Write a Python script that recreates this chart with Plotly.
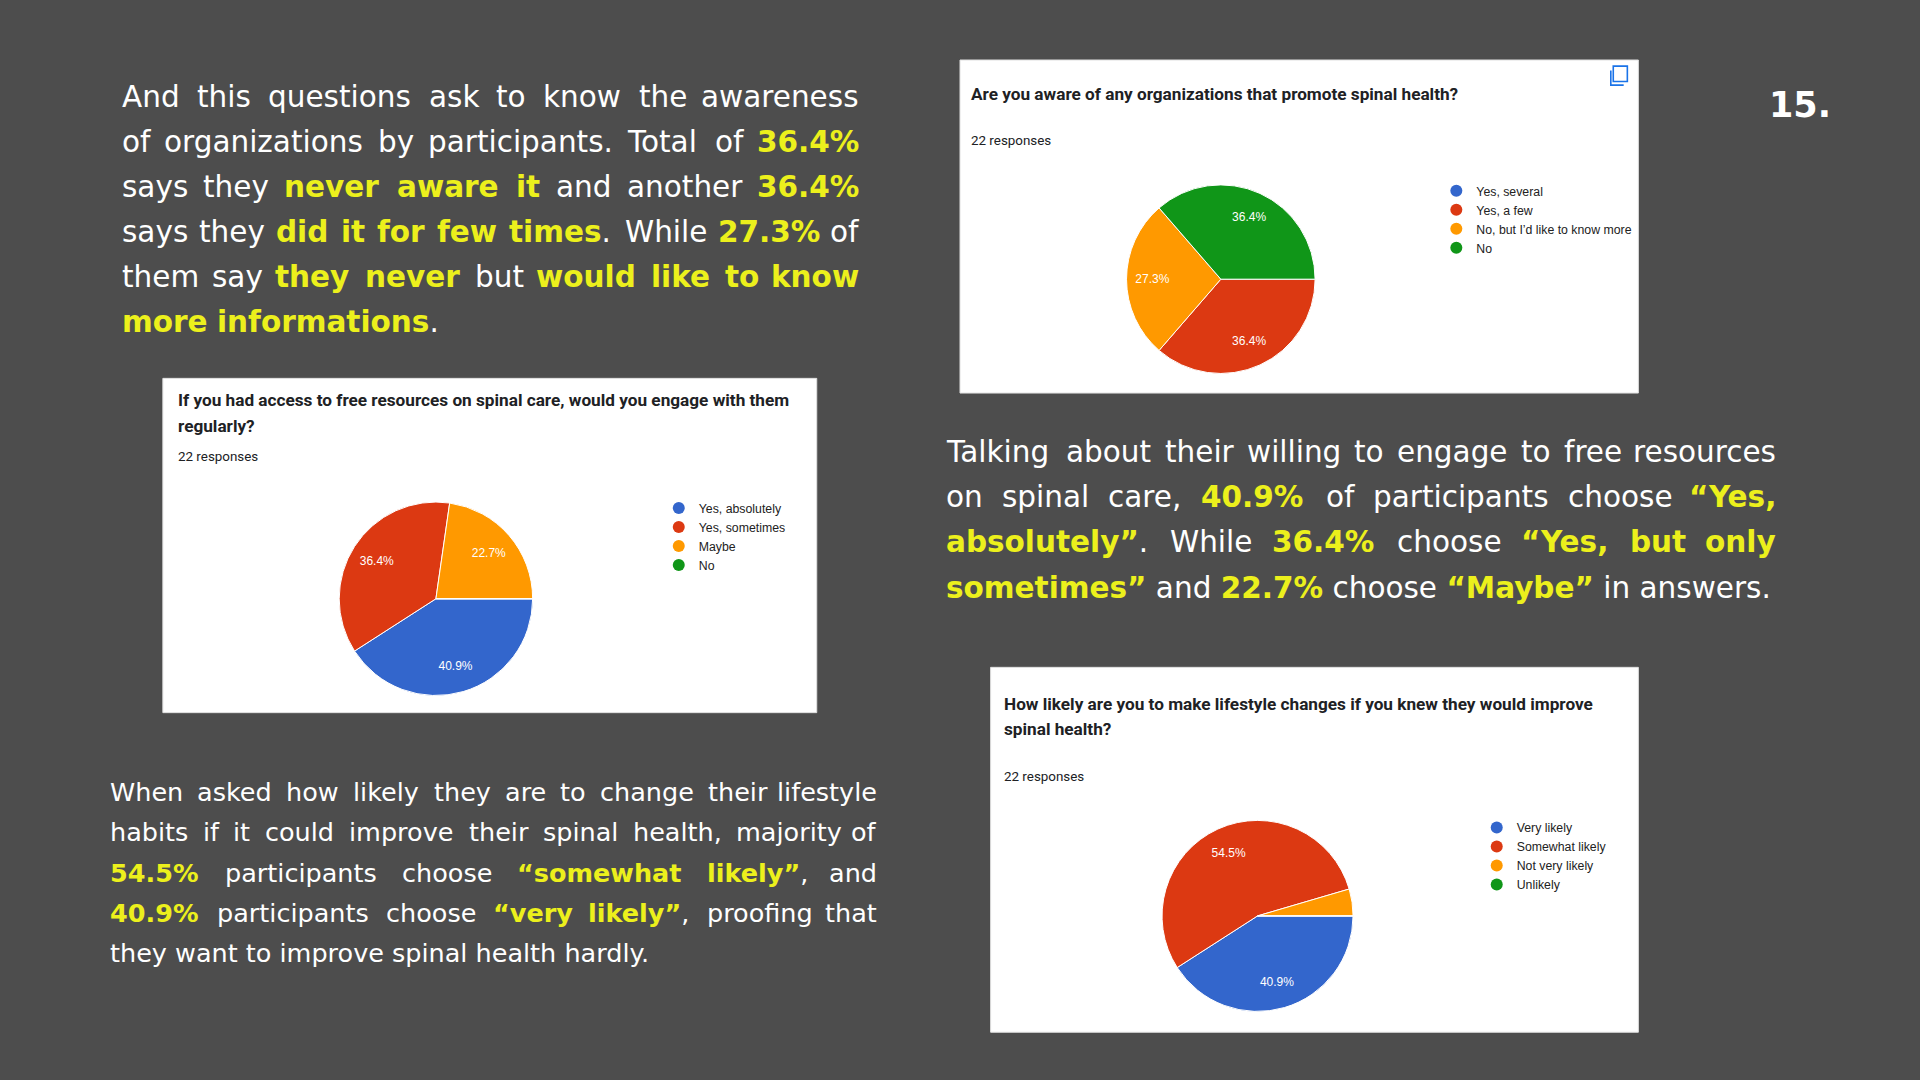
import re
import plotly.graph_objects as go

# ---- data (responses out of 22) ----
slice_colors = ["#3366cc", "#dc3912", "#ff9900", "#109618"]

aware_labels = ["Yes, several", "Yes, a few", "No, but I’d like to know more", "No"]
aware_counts = [0, 8, 6, 8]

engage_labels = ["Yes, absolutely", "Yes, sometimes", "Maybe", "No"]
engage_counts = [9, 8, 5, 0]

change_labels = ["Very likely", "Somewhat likely", "Not very likely", "Unlikely"]
change_counts = [9, 12, 1, 0]

# slide is laid out in a 1568x882 grid, converted to paper coords
W, H = 1568, 882
PX = 1920 / W
def fx(x): return x / W
def fy(y): return 1 - y / H

BG = "#4d4d4d"
YEL = "#ecf01c"
TXT_FONT = "DejaVu Sans"

fig = go.Figure()


def add_pie(labels, counts, dom_x, dom_y, legend_name):
    total = sum(counts)
    dom = dict(x=[fx(dom_x[0]), fx(dom_x[1])], y=[fy(dom_y[1]), fy(dom_y[0])])
    fig.add_trace(go.Pie(
        labels=labels, values=counts, sort=False, direction="clockwise", rotation=90,
        marker=dict(colors=slice_colors, line=dict(color="white", width=1)),
        textinfo="none", domain=dom, showlegend=False, hoverinfo="skip",
    ))
    # transparent ring on top so the percent labels sit further out, like google charts
    tmpl = ["%{percent:.1%}" if c / total >= 0.05 else "" for c in counts]
    fig.add_trace(go.Pie(
        labels=labels, values=counts, sort=False, direction="clockwise", rotation=90, hole=0.45,
        marker=dict(colors=["rgba(0,0,0,0)"] * len(counts), line=dict(width=0)),
        texttemplate=tmpl, textposition="inside", insidetextorientation="horizontal",
        textfont=dict(family="Arial", size=12, color="white"),
        domain=dom, showlegend=False, hoverinfo="label+percent",
    ))
    # legend entries drawn as circle markers like google forms
    for lab, col in zip(labels, slice_colors):
        fig.add_trace(go.Scatter(
            x=[None], y=[None], mode="markers", name=lab,
            marker=dict(color=col, size=12), legend=legend_name, showlegend=True,
        ))


add_pie(aware_labels, aware_counts, (920, 1074), (151, 305), "legend")
add_pie(engage_labels, engage_counts, (277, 435), (410, 568), "legend2")
add_pie(change_labels, change_counts, (949, 1105), (670, 826), "legend3")


def leg(x, y):
    return dict(x=fx(x), y=fy(y), xanchor="left", yanchor="top",
                bgcolor="rgba(0,0,0,0)", borderwidth=0, tracegroupgap=0,
                font=dict(family="Arial", size=12.3, color="#222222"),
                itemclick=False, itemdoubleclick=False)


shapes = []
# white chart cards
for x0, y0, x1, y1 in [(784, 49, 1338, 321), (133, 309, 667, 582), (809, 545, 1338, 843)]:
    shapes.append(dict(type="rect", xref="paper", yref="paper", layer="below",
                       x0=fx(x0), x1=fx(x1), y0=fy(y1), y1=fy(y0),
                       fillcolor="white", line=dict(color="#e0e0e0", width=1)))
# copy icon on the top card
shapes.append(dict(type="rect", xref="paper", yref="paper",
                   x0=fx(1317.5), x1=fx(1329), y0=fy(66.5), y1=fy(54),
                   line=dict(color="#1a73e8", width=1.6)))
shapes.append(dict(type="path", xref="paper", yref="paper",
                   path=f"M {fx(1315.5)} {fy(57.5)} L {fx(1315.5)} {fy(69.5)} L {fx(1326)} {fy(69.5)}",
                   line=dict(color="#1a73e8", width=1.6)))

annotations = []


def note(text, x, y, size, family, color, anchor="left", bold=False):
    annotations.append(dict(
        text=f"<b>{text}</b>" if bold else text, x=fx(x), y=fy(y), xref="paper", yref="paper",
        xanchor=anchor, yanchor="middle", showarrow=False,
        font=dict(family=family, size=size, color=color)))


# card titles
TS, RS = 17.2, 13.4
note("Are you aware of any organizations that promote spinal health?", 791, 77, TS, "Roboto", "#202124", bold=True)
note("22 responses", 791, 115, RS, "Roboto", "#202124")
note("If you had access to free resources on spinal care, would you engage with them", 144, 327, TS, "Roboto", "#202124", bold=True)
note("regularly?", 144, 348, TS, "Roboto", "#202124", bold=True)
note("22 responses", 144, 373, RS, "Roboto", "#202124")
note("How likely are you to make lifestyle changes if you knew they would improve", 818, 575, TS, "Roboto", "#202124", bold=True)
note("spinal health?", 818, 595, TS, "Roboto", "#202124", bold=True)
note("22 responses", 818, 634, RS, "Roboto", "#202124")

# page number
note("15.", 1470, 86, 35, TXT_FONT, "white", anchor="center", bold=True)

# ---- justified paragraphs ----
# approximate DejaVu Sans advance widths (em) for regular / bold
REG = dict(zip("abcdefghijklmnopqrstuvwxyz",
               [.613, .635, .550, .635, .615, .352, .635, .634, .278, .278, .579, .278, .974,
                .634, .612, .635, .635, .411, .521, .392, .634, .592, .818, .592, .592, .525]))
REG.update({" ": .318, ".": .318, ",": .318, "%": .950, "“": .509, "”": .509, "’": .318,
            "A": .684, "T": .611, "W": .989, "H": .752, "Y": .611, "M": .863})
REG.update({d: .636 for d in "0123456789"})
BLD = dict(zip("abcdefghijklmnopqrstuvwxyz",
               [.675, .716, .593, .716, .678, .435, .716, .712, .343, .343, .665, .343, 1.042,
                .712, .687, .716, .716, .493, .595, .478, .712, .652, .890, .651, .652, .581]))
BLD.update({" ": .348, ".": .381, ",": .381, "%": 1.001, "“": .544, "”": .544, "’": .381,
            "Y": .724, "M": .995})
BLD.update({d: .696 for d in "0123456789"})
BLD = {k: v * 1.03 for k, v in BLD.items()}


def words_of(line):
    # split a line into words; each word is a list of (char, bold)
    words, cur, bold = [], [], False
    for tok in re.split(r"(<Y>|</Y>)", line):
        if tok == "<Y>":
            bold = True
        elif tok == "</Y>":
            bold = False
        else:
            for ch in tok:
                if ch == " ":
                    if cur:
                        words.append(cur)
                    cur = []
                else:
                    cur.append((ch, bold))
    if cur:
        words.append(cur)
    return words


def word_html(word):
    out, i = "", 0
    while i < len(word):
        b = word[i][1]
        j = i
        while j < len(word) and word[j][1] == b:
            j += 1
        s = "".join(c for c, _ in word[i:j])
        out += f"<b><span style='color:{YEL}'>{s}</span></b>" if b else s
        i = j
    return out


def word_width(word, size):
    em = sum((BLD if b else REG).get(c, .6) for c, b in word)
    return em * size / PX  # in slide units


def paragraph(lines, x0, x1, y_first, step, size):
    for i, line in enumerate(lines):
        y = y_first + i * step
        ws = words_of(line)
        if i == len(lines) - 1:
            note(" ".join(word_html(w) for w in ws), x0, y, size, TXT_FONT, "white")
            continue
        widths = [word_width(w, size) for w in ws]
        gap = (x1 - x0 - sum(widths)) / (len(ws) - 1)
        x = x0
        for k, (w, wd) in enumerate(zip(ws, widths)):
            if k == len(ws) - 1:
                note(word_html(w), x1, y, size, TXT_FONT, "white", anchor="right")
            else:
                note(word_html(w), x, y, size, TXT_FONT, "white")
            x += wd + gap


para1 = [
    "And this questions ask to know the awareness",
    "of organizations by participants. Total of <Y>36.4%</Y>",
    "says they <Y>never aware it</Y> and another <Y>36.4%</Y>",
    "says they <Y>did it for few times</Y>. While <Y>27.3%</Y> of",
    "them say <Y>they never</Y> but <Y>would like to know</Y>",
    "<Y>more informations</Y>.",
]
para2 = [
    "Talking about their willing to engage to free resources",
    "on spinal care, <Y>40.9%</Y> of participants choose <Y>“Yes,</Y>",
    "<Y>absolutely”</Y>. While <Y>36.4%</Y> choose <Y>“Yes, but only</Y>",
    "<Y>sometimes”</Y> and <Y>22.7%</Y> choose <Y>“Maybe”</Y> in answers.",
]
para3 = [
    "When asked how likely they are to change their lifestyle",
    "habits if it could improve their spinal health, majority of",
    "<Y>54.5%</Y> participants choose <Y>“somewhat likely”</Y>, and",
    "<Y>40.9%</Y> participants choose <Y>“very likely”</Y>, proofing that",
    "they want to improve spinal health hardly.",
]

paragraph(para1, 98, 703, 79, 36.8, 29.5)
paragraph(para2, 771, 1452, 369, 37, 29.5)
paragraph(para3, 88, 718, 647, 32.8, 25.5)

fig.update_layout(
    width=1920, height=1080,
    margin=dict(l=0, r=0, t=0, b=0),
    paper_bgcolor=BG, plot_bgcolor=BG,
    xaxis=dict(visible=False), yaxis=dict(visible=False),
    legend=leg(1173, 144),
    legend2=leg(538, 403),
    legend3=leg(1206, 664),
    shapes=shapes,
    annotations=annotations,
)

fig.write_html("out.html", config={"displayModeBar": False},
               post_script="document.body.style.margin='0';")
